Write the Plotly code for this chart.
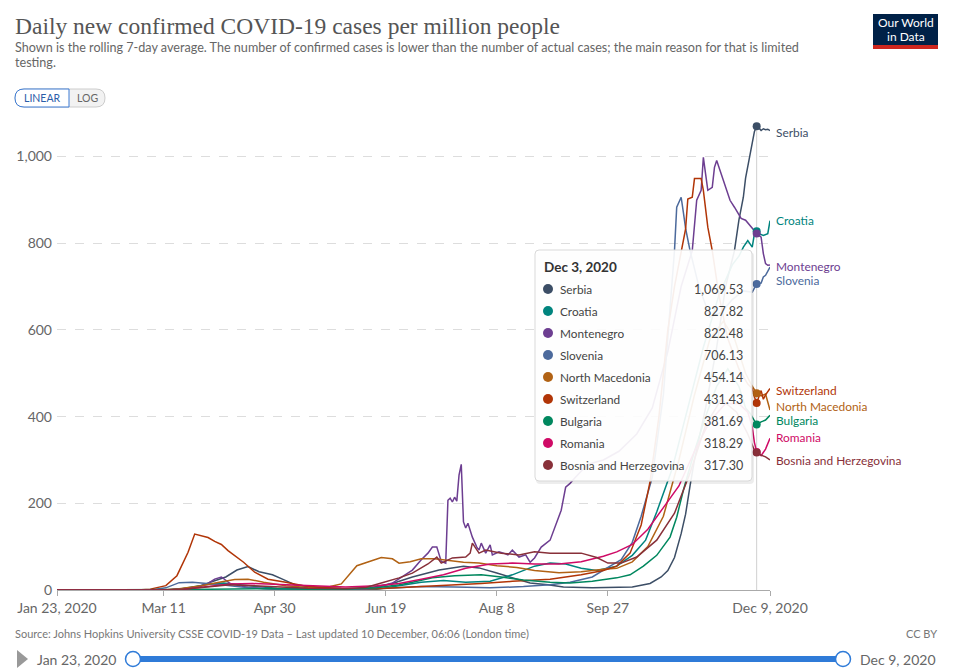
import plotly.graph_objects as go

# ---------------- data ----------------
HOVER_DATE = "2020-12-03"
X_START = "2020-01-23"
X_END = "2020-12-09"

x_tick_dates = ["2020-01-23", "2020-03-11", "2020-04-30", "2020-06-19",
                "2020-08-08", "2020-09-27", "2020-12-09"]
x_tick_labels = ["Jan 23, 2020", "Mar 11", "Apr 30", "Jun 19", "Aug 8", "Sep 27", "Dec 9, 2020"]
y_tick_values = [0, 200, 400, 600, 800, 1000]

serbia = [("2020-01-23", 0), ("2020-03-08", 0), ("2020-03-15", 1), ("2020-03-22", 4), ("2020-03-28", 10),
          ("2020-04-01", 18), ("2020-04-08", 30), ("2020-04-13", 46), ("2020-04-18", 54), ("2020-04-23", 42),
          ("2020-04-29", 35), ("2020-05-04", 24), ("2020-05-09", 12), ("2020-05-20", 5), ("2020-06-01", 3),
          ("2020-06-12", 5), ("2020-06-22", 15), ("2020-07-01", 30), ("2020-07-13", 46), ("2020-07-24", 55),
          ("2020-07-31", 51), ("2020-08-08", 39), ("2020-08-15", 28), ("2020-08-23", 16), ("2020-08-31", 12),
          ("2020-09-07", 7), ("2020-09-20", 5), ("2020-10-01", 6), ("2020-10-08", 7), ("2020-10-16", 15),
          ("2020-10-21", 30), ("2020-10-24", 45), ("2020-10-27", 75), ("2020-10-30", 130), ("2020-11-01", 175),
          ("2020-11-03", 240), ("2020-11-05", 300), ("2020-11-10", 420), ("2020-11-15", 560), ("2020-11-19", 700),
          ("2020-11-23", 783), ("2020-11-25", 853), ("2020-11-27", 906), ("2020-11-28", 950), ("2020-11-30", 1006),
          ("2020-12-01", 1037), ("2020-12-02", 1058), ("2020-12-03", 1069.53), ("2020-12-04", 1066),
          ("2020-12-05", 1060), ("2020-12-06", 1064), ("2020-12-07", 1062), ("2020-12-08", 1063), ("2020-12-09", 1060)]

croatia = [("2020-01-23", 0), ("2020-03-10", 0), ("2020-03-18", 2), ("2020-03-25", 8), ("2020-04-01", 14),
           ("2020-04-07", 16), ("2020-04-14", 12), ("2020-04-22", 8), ("2020-05-01", 4), ("2020-05-15", 2),
           ("2020-06-01", 1), ("2020-06-15", 2), ("2020-06-25", 10), ("2020-07-05", 18), ("2020-07-15", 22),
           ("2020-07-25", 18), ("2020-08-05", 20), ("2020-08-15", 35), ("2020-08-25", 55), ("2020-09-01", 62),
           ("2020-09-08", 60), ("2020-09-15", 50), ("2020-09-22", 45), ("2020-10-01", 55), ("2020-10-08", 80),
           ("2020-10-14", 115), ("2020-10-19", 180), ("2020-10-26", 280), ("2020-11-02", 420), ("2020-11-09", 560),
           ("2020-11-16", 680), ("2020-11-22", 750), ("2020-11-25", 770), ("2020-11-27", 791), ("2020-11-29", 806),
           ("2020-12-01", 791), ("2020-12-02", 822), ("2020-12-03", 827.82), ("2020-12-04", 822),
           ("2020-12-06", 818), ("2020-12-08", 822), ("2020-12-09", 852)]

montenegro = [("2020-01-23", 0), ("2020-03-20", 0), ("2020-03-25", 5), ("2020-03-31", 15), ("2020-04-03", 25),
              ("2020-04-06", 30), ("2020-04-10", 15), ("2020-04-18", 6), ("2020-04-30", 2), ("2020-05-15", 0),
              ("2020-06-05", 0), ("2020-06-15", 5), ("2020-06-22", 16), ("2020-07-01", 46), ("2020-07-05", 70),
              ("2020-07-08", 85), ("2020-07-10", 99), ("2020-07-12", 99), ("2020-07-14", 66), ("2020-07-16", 62),
              ("2020-07-17", 207), ("2020-07-18", 212), ("2020-07-19", 203), ("2020-07-20", 214), ("2020-07-21", 205),
              ("2020-07-22", 265), ("2020-07-23", 290), ("2020-07-24", 157), ("2020-07-25", 143), ("2020-07-26", 154),
              ("2020-07-28", 122), ("2020-07-30", 99), ("2020-07-31", 92), ("2020-08-01", 108), ("2020-08-03", 85),
              ("2020-08-05", 104), ("2020-08-06", 81), ("2020-08-09", 88), ("2020-08-11", 85), ("2020-08-13", 81),
              ("2020-08-15", 92), ("2020-08-18", 76), ("2020-08-21", 81), ("2020-08-23", 64), ("2020-08-25", 74),
              ("2020-08-28", 99), ("2020-09-01", 115), ("2020-09-04", 154), ("2020-09-06", 184), ("2020-09-08", 237),
              ("2020-09-10", 246), ("2020-09-12", 258), ("2020-09-18", 290), ("2020-09-25", 300), ("2020-10-02", 320),
              ("2020-10-10", 360), ("2020-10-17", 420), ("2020-10-24", 550), ("2020-10-30", 700), ("2020-11-04", 783),
              ("2020-11-06", 899), ("2020-11-08", 922), ("2020-11-09", 998), ("2020-11-10", 960), ("2020-11-11", 922),
              ("2020-11-13", 929), ("2020-11-14", 975), ("2020-11-15", 991), ("2020-11-17", 960), ("2020-11-19", 929),
              ("2020-11-21", 899), ("2020-11-23", 883), ("2020-11-26", 857), ("2020-11-28", 853), ("2020-11-30", 841),
              ("2020-12-02", 829), ("2020-12-03", 822.48), ("2020-12-05", 814), ("2020-12-06", 776),
              ("2020-12-07", 753), ("2020-12-08", 749), ("2020-12-09", 750)]

slovenia = [("2020-01-23", 0), ("2020-03-05", 0), ("2020-03-12", 5), ("2020-03-18", 17), ("2020-03-24", 18),
            ("2020-03-30", 16), ("2020-04-06", 12), ("2020-04-15", 7), ("2020-04-25", 3), ("2020-05-10", 1),
            ("2020-06-01", 1), ("2020-06-20", 4), ("2020-07-05", 8), ("2020-07-20", 7), ("2020-08-05", 5),
            ("2020-08-20", 8), ("2020-09-01", 12), ("2020-09-10", 18), ("2020-09-20", 30), ("2020-09-28", 55),
            ("2020-10-03", 70), ("2020-10-08", 110), ("2020-10-12", 170), ("2020-10-17", 260), ("2020-10-22", 450),
            ("2020-10-25", 650), ("2020-10-27", 783), ("2020-10-28", 883), ("2020-10-30", 906), ("2020-10-31", 871),
            ("2020-11-01", 834), ("2020-11-03", 783), ("2020-11-07", 700), ("2020-11-12", 630), ("2020-11-17", 640),
            ("2020-11-22", 670), ("2020-11-27", 690), ("2020-12-01", 687), ("2020-12-03", 706.13),
            ("2020-12-05", 708), ("2020-12-06", 722), ("2020-12-07", 726), ("2020-12-09", 745)]

north_macedonia = [("2020-01-23", 0), ("2020-03-10", 0), ("2020-03-18", 3), ("2020-03-28", 10), ("2020-04-05", 18),
                   ("2020-04-12", 24), ("2020-04-18", 25), ("2020-04-25", 18), ("2020-05-05", 10), ("2020-05-15", 6),
                   ("2020-05-25", 8), ("2020-05-30", 14), ("2020-06-06", 56), ("2020-06-13", 68), ("2020-06-17", 75),
                   ("2020-06-22", 72), ("2020-06-25", 62), ("2020-06-30", 65), ("2020-07-05", 72), ("2020-07-11", 72),
                   ("2020-07-18", 68), ("2020-07-24", 64), ("2020-07-31", 62), ("2020-08-08", 56), ("2020-08-17", 52),
                   ("2020-08-25", 45), ("2020-09-05", 40), ("2020-09-15", 42), ("2020-09-25", 48), ("2020-10-01", 50),
                   ("2020-10-08", 65), ("2020-10-15", 100), ("2020-10-22", 170), ("2020-10-29", 300),
                   ("2020-11-05", 450), ("2020-11-12", 580), ("2020-11-18", 620), ("2020-11-23", 580),
                   ("2020-11-28", 500), ("2020-12-01", 470), ("2020-12-03", 454.14), ("2020-12-05", 448),
                   ("2020-12-07", 452), ("2020-12-09", 415)]

switzerland = [("2020-01-23", 0), ("2020-02-28", 0), ("2020-03-05", 2), ("2020-03-12", 10), ("2020-03-17", 33),
               ("2020-03-22", 87), ("2020-03-25", 129), ("2020-03-28", 125), ("2020-03-31", 121), ("2020-04-03", 112),
               ("2020-04-06", 105), ("2020-04-09", 91), ("2020-04-16", 64), ("2020-04-21", 41), ("2020-04-27", 25),
               ("2020-05-05", 18), ("2020-05-13", 10), ("2020-05-21", 6), ("2020-05-30", 4), ("2020-06-15", 3),
               ("2020-07-01", 7), ("2020-07-15", 12), ("2020-08-01", 15), ("2020-08-15", 20), ("2020-09-01", 25),
               ("2020-09-15", 35), ("2020-09-25", 45), ("2020-10-01", 55), ("2020-10-07", 85), ("2020-10-12", 150),
               ("2020-10-16", 250), ("2020-10-20", 400), ("2020-10-24", 600), ("2020-10-27", 700), ("2020-10-30", 780),
               ("2020-11-01", 833), ("2020-11-02", 902), ("2020-11-04", 906), ("2020-11-05", 949), ("2020-11-08", 949),
               ("2020-11-09", 922), ("2020-11-10", 876), ("2020-11-11", 837), ("2020-11-13", 783), ("2020-11-16", 680),
               ("2020-11-20", 580), ("2020-11-25", 510), ("2020-11-29", 475), ("2020-12-01", 465), ("2020-12-02", 445),
               ("2020-12-03", 431.43), ("2020-12-05", 460), ("2020-12-06", 440), ("2020-12-07", 450), ("2020-12-09", 465)]

bulgaria = [("2020-01-23", 0), ("2020-03-10", 0), ("2020-03-20", 1), ("2020-04-01", 2), ("2020-04-15", 3),
            ("2020-05-01", 3), ("2020-05-15", 2), ("2020-06-01", 2), ("2020-06-15", 5), ("2020-06-25", 12),
            ("2020-07-01", 18), ("2020-07-10", 28), ("2020-07-20", 33), ("2020-08-01", 35), ("2020-08-10", 30),
            ("2020-08-20", 23), ("2020-09-01", 18), ("2020-09-10", 16), ("2020-09-20", 20), ("2020-10-01", 28),
            ("2020-10-07", 35), ("2020-10-13", 55), ("2020-10-19", 80), ("2020-10-25", 122), ("2020-10-28", 168),
            ("2020-10-31", 230), ("2020-11-05", 320), ("2020-11-10", 400), ("2020-11-15", 470), ("2020-11-20", 510),
            ("2020-11-25", 470), ("2020-11-28", 420), ("2020-11-30", 408), ("2020-12-01", 399), ("2020-12-02", 392),
            ("2020-12-03", 381.69), ("2020-12-05", 388), ("2020-12-07", 392), ("2020-12-09", 403)]

romania = [("2020-01-23", 0), ("2020-03-10", 0), ("2020-03-20", 2), ("2020-04-01", 8), ("2020-04-10", 14),
           ("2020-04-20", 15), ("2020-05-01", 13), ("2020-05-15", 10), ("2020-06-01", 7), ("2020-06-15", 10),
           ("2020-06-25", 15), ("2020-07-05", 25), ("2020-07-15", 35), ("2020-07-25", 50), ("2020-08-05", 60),
           ("2020-08-15", 62), ("2020-08-25", 60), ("2020-09-05", 60), ("2020-09-15", 65), ("2020-09-25", 78),
           ("2020-10-01", 88), ("2020-10-08", 105), ("2020-10-15", 140), ("2020-10-22", 190), ("2020-10-29", 240),
           ("2020-11-05", 320), ("2020-11-12", 390), ("2020-11-19", 430), ("2020-11-25", 430), ("2020-11-29", 410),
           ("2020-12-01", 376), ("2020-12-02", 340), ("2020-12-03", 318.29), ("2020-12-05", 310),
           ("2020-12-07", 325), ("2020-12-09", 350)]

bosnia = [("2020-01-23", 0), ("2020-03-10", 0), ("2020-03-20", 2), ("2020-04-01", 8), ("2020-04-10", 12),
          ("2020-04-20", 10), ("2020-05-01", 7), ("2020-05-15", 4), ("2020-06-01", 3), ("2020-06-10", 6),
          ("2020-06-17", 16), ("2020-06-25", 28), ("2020-07-01", 39), ("2020-07-08", 60), ("2020-07-12", 76),
          ("2020-07-14", 62), ("2020-07-19", 74), ("2020-07-25", 76), ("2020-07-27", 85), ("2020-07-28", 108),
          ("2020-07-31", 85), ("2020-08-03", 92), ("2020-08-10", 85), ("2020-08-18", 81), ("2020-08-25", 88),
          ("2020-09-01", 85), ("2020-09-07", 85), ("2020-09-15", 85), ("2020-09-22", 75), ("2020-09-27", 62),
          ("2020-10-03", 62), ("2020-10-10", 76), ("2020-10-19", 115), ("2020-10-27", 177), ("2020-11-03", 270),
          ("2020-11-10", 380), ("2020-11-17", 440), ("2020-11-24", 410), ("2020-11-29", 360), ("2020-12-01", 335),
          ("2020-12-02", 322), ("2020-12-03", 317.30), ("2020-12-05", 311), ("2020-12-07", 307), ("2020-12-09", 300)]

# order used in the tooltip
series_names = ["Serbia", "Croatia", "Montenegro", "Slovenia", "North Macedonia",
                "Switzerland", "Bulgaria", "Romania", "Bosnia and Herzegovina"]
series_data = [serbia, croatia, montenegro, slovenia, north_macedonia,
               switzerland, bulgaria, romania, bosnia]

# ---------------- styling ----------------
colors = ["#3C4E66", "#00847E", "#6D3E91", "#4C6A9C", "#B16214",
          "#B13507", "#00875E", "#CF0A66", "#883039"]
# pixel y-position of the right-hand labels (collision-avoided, as in the original)
label_py = [132, 220, 266, 280, 406, 390, 420, 437, 460]

W, H = 954, 670
ML, MR, MT, MB = 57, 184, 124, 80
PW, PH = W - ML - MR, H - MT - MB
Y_MAX = 1075


def px(x):
    return (x - ML) / PW


def py(y):
    return (H - MB - y) / PH


def rrect(x0, y0, x1, y1, rl, rr):
    pts = [
        f"M{px(x0 + rl)},{py(y0)}",
        f"L{px(x1 - rr)},{py(y0)}",
        f"Q{px(x1)},{py(y0)} {px(x1)},{py(y0 + rr)}",
        f"L{px(x1)},{py(y1 - rr)}",
        f"Q{px(x1)},{py(y1)} {px(x1 - rr)},{py(y1)}",
        f"L{px(x0 + rl)},{py(y1)}",
        f"Q{px(x0)},{py(y1)} {px(x0)},{py(y1 - rl)}",
        f"L{px(x0)},{py(y0 + rl)}",
        f"Q{px(x0)},{py(y0)} {px(x0 + rl)},{py(y0)}",
        "Z",
    ]
    return " ".join(pts)


fig = go.Figure()

for name, data, col in zip(series_names, series_data, colors):
    fig.add_trace(go.Scatter(
        x=[d for d, _ in data], y=[v for _, v in data], mode="lines", name=name,
        line=dict(color=col, width=1.5), hoverinfo="skip"))

# hover markers
for name, data, col in zip(series_names, series_data, colors):
    v = dict(data)[HOVER_DATE]
    fig.add_trace(go.Scatter(x=[HOVER_DATE], y=[v], mode="markers",
                             marker=dict(color=col, size=8), cliponaxis=False, hoverinfo="skip"))

shapes = []
annotations = []

# hover vertical line
shapes.append(dict(type="line", xref="x", yref="paper", x0=HOVER_DATE, x1=HOVER_DATE,
                   y0=0, y1=py(124), line=dict(color="#d0d0d0", width=1), layer="below"))

# tooltip
tx0, ty0, tx1, ty1 = 535, 250, 752, 481
shapes.append(dict(type="path", xref="paper", yref="paper", path=rrect(tx0 + 1, ty0 + 2, tx1 + 2, ty1 + 3, 4, 4),
                   fillcolor="rgba(0,0,0,0.07)", line=dict(width=0)))
shapes.append(dict(type="path", xref="paper", yref="paper", path=rrect(tx0, ty0, tx1, ty1, 4, 4),
                   fillcolor="rgba(255,255,255,0.92)", line=dict(color="#d9d9d9", width=1)))
annotations.append(dict(xref="paper", yref="paper", x=px(542), y=py(267), xanchor="left", yanchor="middle",
                        text="<b>Dec 3, 2020</b>", showarrow=False,
                        font=dict(family="Lato", size=13.5, color="#333")))
for i, (name, data, col) in enumerate(zip(series_names, series_data, colors)):
    ry = 289 + 22 * i
    v = dict(data)[HOVER_DATE]
    shapes.append(dict(type="circle", xref="paper", yref="paper", x0=px(543), x1=px(553),
                       y0=py(ry + 5), y1=py(ry - 5), fillcolor=col, line=dict(width=0)))
    annotations.append(dict(xref="paper", yref="paper", x=px(558), y=py(ry), xanchor="left", yanchor="middle",
                            text=name, showarrow=False, font=dict(family="Lato", size=11.8, color="#444")))
    annotations.append(dict(xref="paper", yref="paper", x=px(745), y=py(ry), xanchor="right", yanchor="middle",
                            text=f"{v:,.2f}", showarrow=False, font=dict(family="Lato", size=12.5, color="#444")))

# right-hand labels
for name, col, ly in zip(series_names, colors, label_py):
    annotations.append(dict(xref="paper", yref="paper", x=px(774), y=py(ly), xanchor="left", yanchor="middle",
                            text=name, showarrow=False, font=dict(family="Lato", size=11.9, color=col)))

# header
annotations.append(dict(xref="paper", yref="paper", x=px(13), y=py(26), xanchor="left", yanchor="middle",
                        text="Daily new confirmed COVID-19 cases per million people", showarrow=False,
                        font=dict(family="Liberation Serif", size=23.5, color="#555")))
annotations.append(dict(xref="paper", yref="paper", x=px(13), y=py(47), xanchor="left", yanchor="middle",
                        text="Shown is the rolling 7-day average. The number of confirmed cases is lower than the "
                             "number of actual cases; the main reason for that is limited",
                        showarrow=False, font=dict(family="Lato", size=12.6, color="#666")))
annotations.append(dict(xref="paper", yref="paper", x=px(13), y=py(63), xanchor="left", yanchor="middle",
                        text="testing.", showarrow=False, font=dict(family="Lato", size=12.6, color="#666")))

# linear / log toggle
shapes.append(dict(type="path", xref="paper", yref="paper", path=rrect(15, 89, 105, 107, 9, 9),
                   fillcolor="#f2f2f2", line=dict(color="#cccccc", width=1)))
shapes.append(dict(type="path", xref="paper", yref="paper", path=rrect(15, 89, 69, 107, 9, 0),
                   fillcolor="#ffffff", line=dict(color="#3d7bd3", width=1)))
annotations.append(dict(xref="paper", yref="paper", x=px(42), y=py(98), xanchor="center", yanchor="middle",
                        text="LINEAR", showarrow=False, font=dict(family="Lato", size=10.5, color="#2a5da8")))
annotations.append(dict(xref="paper", yref="paper", x=px(87), y=py(98), xanchor="center", yanchor="middle",
                        text="LOG", showarrow=False, font=dict(family="Lato", size=10.5, color="#666")))

# logo
shapes.append(dict(type="rect", xref="paper", yref="paper", x0=px(873), x1=px(938), y0=py(45), y1=py(14),
                   fillcolor="#002147", line=dict(width=0)))
shapes.append(dict(type="rect", xref="paper", yref="paper", x0=px(873), x1=px(938), y0=py(49), y1=py(45),
                   fillcolor="#ce261e", line=dict(width=0)))
annotations.append(dict(xref="paper", yref="paper", x=px(905.5), y=py(23), xanchor="center", yanchor="middle",
                        text="Our World", showarrow=False, borderpad=0,
                        font=dict(family="Liberation Sans Narrow, Lato", size=12, color="white")))
annotations.append(dict(xref="paper", yref="paper", x=px(905.5), y=py(37), xanchor="center", yanchor="middle",
                        text="in Data", showarrow=False, borderpad=0,
                        font=dict(family="Liberation Sans Narrow, Lato", size=12, color="white")))

# footer
annotations.append(dict(xref="paper", yref="paper", x=px(13), y=py(633), xanchor="left", yanchor="middle",
                        text="Source: Johns Hopkins University CSSE COVID-19 Data – Last updated 10 December, "
                             "06:06 (London time)",
                        showarrow=False, font=dict(family="Lato", size=11, color="#777")))
annotations.append(dict(xref="paper", yref="paper", x=px(939), y=py(633), xanchor="right", yanchor="middle",
                        text="CC BY", showarrow=False, font=dict(family="Lato", size=11, color="#777")))

# timeline slider
shapes.append(dict(type="path", xref="paper", yref="paper",
                   path=f"M{px(17)},{py(650)} L{px(28)},{py(659)} L{px(17)},{py(668)} Z",
                   fillcolor="#999", line=dict(width=0)))
annotations.append(dict(xref="paper", yref="paper", x=px(36), y=py(659), xanchor="left", yanchor="middle",
                        text="Jan 23, 2020", showarrow=False, borderpad=0,
                        font=dict(family="Lato", size=14, color="#666")))
annotations.append(dict(xref="paper", yref="paper", x=px(937), y=py(659), xanchor="right", yanchor="middle",
                        text="Dec 9, 2020", showarrow=False, borderpad=0,
                        font=dict(family="Lato", size=14, color="#666")))
shapes.append(dict(type="rect", xref="paper", yref="paper", x0=px(133), x1=px(843), y0=py(662), y1=py(656),
                   fillcolor="#2f7bd8", line=dict(width=0)))
for cx in (133, 843):
    shapes.append(dict(type="circle", xref="paper", yref="paper", x0=px(cx - 7.5), x1=px(cx + 7.5),
                       y0=py(659 + 7.5), y1=py(659 - 7.5), fillcolor="white",
                       line=dict(color="#2f7bd8", width=1.5)))

fig.update_layout(
    width=W, height=H,
    margin=dict(l=ML, r=MR, t=MT, b=MB, autoexpand=False),
    paper_bgcolor="white", plot_bgcolor="white",
    showlegend=False, hovermode=False,
    font=dict(family="Lato", color="#666"),
    shapes=shapes, annotations=annotations,
    xaxis=dict(type="date", range=[X_START, X_END], tickvals=x_tick_dates, ticktext=x_tick_labels,
               showgrid=False, zeroline=False, showline=True, linecolor="#aaaaaa", linewidth=1,
               ticks="outside", ticklen=5, tickcolor="#aaaaaa", fixedrange=True,
               tickfont=dict(family="Lato", size=14, color="#666")),
    yaxis=dict(range=[0, Y_MAX], tickvals=y_tick_values, tickformat=",", showgrid=True,
               gridcolor="#dddddd", griddash="dash", zeroline=False, showline=False, ticks="",
               fixedrange=True, ticklabelstandoff=4, tickfont=dict(family="Lato", size=14, color="#666")),
)

fig.write_html("out.html", config={"displayModeBar": False},
               post_script="document.body.style.margin='0';")
